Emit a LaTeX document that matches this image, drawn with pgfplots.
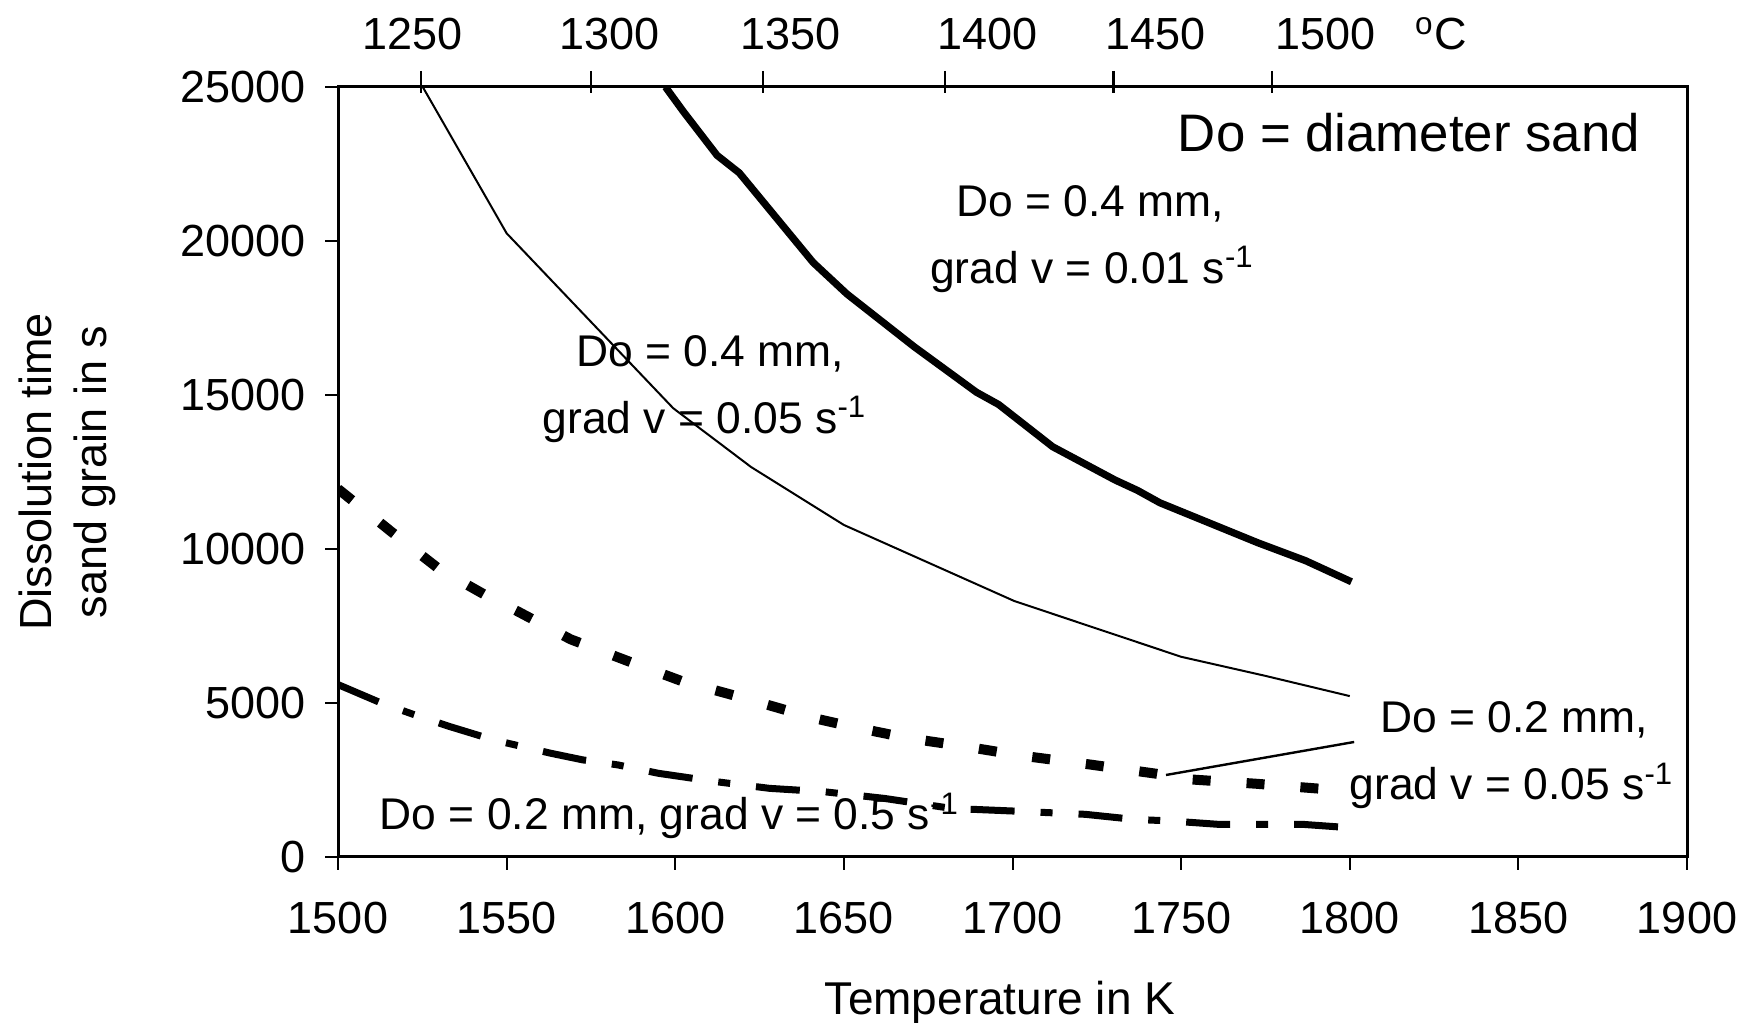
\documentclass[border=0pt]{standalone}
\usepackage{fontspec}
\setmainfont{Liberation Sans}
\usepackage{pgfplots}
\pgfplotsset{compat=1.18}
\begin{document}
\begin{tikzpicture}
\useasboundingbox (-84.5pt,-41.5pt) rectangle (353.75pt,214.25pt);
\begin{axis}[
 name=ax,
 at={(0,0)}, anchor=south west,
 scale only axis, width=337.25pt, height=192.5pt,
 xmin=1500, xmax=1900, ymin=0, ymax=25000,
 xtick={1500,1550,...,1900}, ytick={0,5000,...,25000},
 xtick pos=bottom, ytick pos=left,
 tick align=outside, major tick length=3.25pt,
 axis line style={line width=0.75pt},
 every tick/.style={line width=0.5pt, black},
 /pgf/number format/assume math mode=true,
 /pgf/number format/1000 sep={},
 scaled y ticks=false, scaled x ticks=false,
 tick label style={font=\fontsize{11.25}{13.5}\selectfont},
 xticklabel style={yshift=-4.5pt},
 yticklabel style={xshift=-1.4pt},
 clip mode=individual,
]
\addplot[black, line width=1.8pt] coordinates {(1597.1,25000)(1602.4,24203)(1612.4,22780)(1619,22210)(1640.9,19300)(1650.9,18280)(1670.8,16570)(1689.3,15090)(1695.9,14690)(1711.9,13320)(1730.4,12240)(1737.1,11900)(1743.7,11500)(1772.9,10195)(1786.9,9620)(1800.5,8935)};
\addplot[black, line width=0.5pt] coordinates {(1500,29800)(1550,20250)(1599.4,14570)(1622.5,12660)(1650,10780)(1700.5,8312)(1750,6500)(1775,5880)(1800,5224)};
\addplot[black, line width=2.5pt, dash pattern=on 4.5pt off 9pt] coordinates {(1500,11950)(1516,10544)(1530,9348)(1545,8424)(1553,7990)(1569,7066)(1586,6359)(1602,5707)(1622,5109)(1641,4511)(1652,4239)(1669,3859)(1686,3587)(1702,3300)(1722.6,3008)(1742.5,2705)(1752.4,2521)(1772,2380)(1793.6,2196)(1800,2150)};
\addplot[black, line width=1.75pt, dash pattern=on 11pt off 6.5pt on 3pt off 6.5pt] coordinates {(1500,5598)(1512.8,5000)(1522.6,4620)(1533,4239)(1546,3805)(1563,3370)(1572.6,3152)(1583,2989)(1595,2717)(1612,2446)(1628,2228)(1644,2120)(1662,1902)(1682,1576)(1700,1493)(1721.6,1385)(1735.8,1223)(1747,1169)(1761,1060)(1786,1060)(1800,950)};
\addplot[black, line width=0.6pt] coordinates {(1801.3,3734)(1745.5,2662)};
\begin{scope}[every node/.style={font=\fontsize{11.1}{13}\selectfont, anchor=base, inner sep=0pt}]
\node at (axis cs:1723,20780) {Do = 0.4 mm,};
\node at (axis cs:1723.7,18620) {grad v = 0.01 s\textsuperscript{-1}};
\node at (axis cs:1610.3,15920) {Do = 0.4 mm,};
\node at (axis cs:1608.8,13757) {grad v = 0.05 s\textsuperscript{-1}};
\node at (axis cs:1848.7,4026) {Do = 0.2 mm,};
\node at (axis cs:1848.1,1851) {grad v = 0.05 s\textsuperscript{-1}};
\node at (axis cs:1598.4,877) {Do = 0.2 mm, grad v = 0.5 s\textsuperscript{-1}};
\end{scope}
\node[font=\fontsize{13.2}{15}\selectfont, anchor=base west, inner sep=0pt] at (axis cs:1748.8,22890) {Do = diameter sand};
\end{axis}
\begin{axis}[
 at={(0,0)}, anchor=south west,
 scale only axis, width=337.25pt, height=192.5pt,
 xmin=1500, xmax=1900, ymin=0, ymax=1,
 axis x line*=top, hide y axis,
 axis line style={line width=0.75pt},
 xtick={1524.6,1575,1626,1680,1730,1777}, xticklabels={},
 tick align=outside, major tick length=5.5pt,
 xtick style={line width=0.6pt, black, yshift=-1.5pt},
 extra x ticks={1522.2,1580.4,1634.3,1692.7,1742.3,1792.7,1827.1},
 extra x tick labels={1250,1300,1350,1400,1450,1500,\textsuperscript{o}C},
 extra x tick style={major tick length=0pt},
 xticklabel style={yshift=5.6pt},
 tick label style={font=\fontsize{11.25}{13.5}\selectfont},
]
\end{axis}
\node[font=\fontsize{11.25}{13.5}\selectfont, rotate=90, anchor=base, inner sep=0pt] at ([xshift=-71.6pt]ax.west) {Dissolution time};
\node[font=\fontsize{11.25}{13.5}\selectfont, rotate=90, anchor=base, inner sep=0pt] at ([xshift=-57.8pt]ax.west) {sand grain in s};
\node[font=\fontsize{11.5}{13.5}\selectfont, anchor=base, inner sep=0pt] at ([xshift=-3.1pt, yshift=-39.5pt]ax.south) {Temperature in K};
\end{tikzpicture}
\end{document}
